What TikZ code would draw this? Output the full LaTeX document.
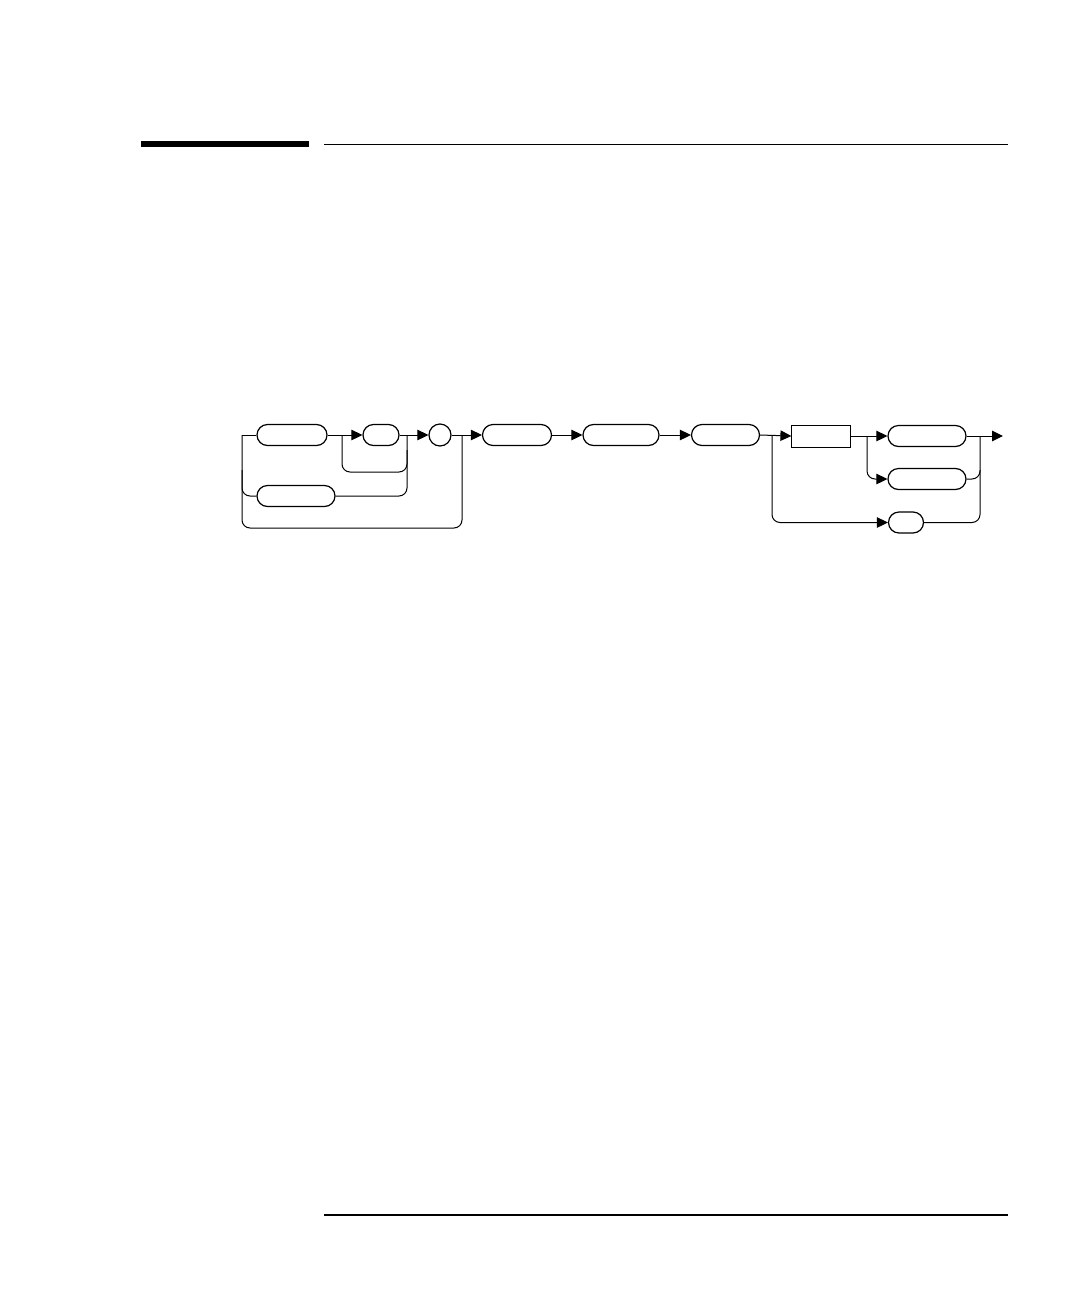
\documentclass[tikz,border=0pt]{standalone}
\usetikzlibrary{arrows.meta}
\begin{document}
\begin{tikzpicture}[x=1pt,y=-1pt,
  pill/.style={draw,line width=1.2pt,rounded corners=10.5pt,minimum height=21pt,inner sep=0pt},
  boxnode/.style={draw,line width=1pt,minimum height=22pt,inner sep=0pt},
  ring/.style={draw,circle,line width=1.2pt,minimum size=22pt,inner sep=0pt},
  wire/.style={line width=1pt,rounded corners=8pt},
  arr/.style={wire,-{Triangle[length=11pt,width=10.5pt]}}]
\useasboundingbox (0,0) rectangle (1080,1296);
% header and footer rules
\fill (141,141) rectangle (309,146.7);
\draw[line width=1.3pt] (324,144.3) -- (1008,144.3);
\draw[line width=1.3pt] (324,1215) -- (1008,1215);
% nodes
\node[pill,minimum width=70pt] (o1) at (292,435) {};
\node[pill,minimum width=36pt] (o2) at (381,435) {};
\node[ring] (c) at (440,435) {};
\node[pill,minimum width=78pt] (o3) at (296,496) {};
\node[pill,minimum width=69pt] (o4) at (517,435) {};
\node[pill,minimum width=76pt] (o5) at (621,435) {};
\node[pill,minimum width=68pt] (o6) at (725.5,435) {};
\node[boxnode,minimum width=59pt] (r) at (821.4,436) {};
\node[pill,minimum width=78pt] (o7) at (927,436) {};
\node[pill,minimum width=78pt] (o8) at (927,479) {};
\node[pill,minimum width=35pt] (o9) at (906,522.5) {};
\coordinate (s) at (242,435);
\coordinate (e) at (1003,436);
% left section
\draw[wire] (s) -- (o1.west);
\draw[arr] (o1.east) -- (o2.west);
\draw[wire] (342,435) -- (342,472) -- (407,472) -- (407,435);
\draw[arr] (o2.east) -- (c.west);
\draw[wire] (s) -- (242,528) -- (462,528) -- (462,435);
\draw[wire] (242,470) -- (242,496) -- (o3.west);
\draw[wire] (o3.east) -- (407,496) -- (407,450);
\draw[arr] (c.east) -- (o4.west);
% middle
\draw[arr] (o4.east) -- (o5.west);
\draw[arr] (o5.east) -- (o6.west);
\draw[arr] (o6.east) -- (r.west);
% right section
\draw[arr] (772,436) -- (772,522.5) -- (o9.west);
\draw[arr] (r.east) -- (o7.west);
\draw[arr] (867,436) -- (867,479) -- (o8.west);
\draw[arr] (o7.east) -- (e);
\draw[wire] (o8.east) -- (980,479) -- (980,436);
\draw[wire] (o9.east) -- (980,522.5) -- (980,470);
\end{tikzpicture}
\end{document}
